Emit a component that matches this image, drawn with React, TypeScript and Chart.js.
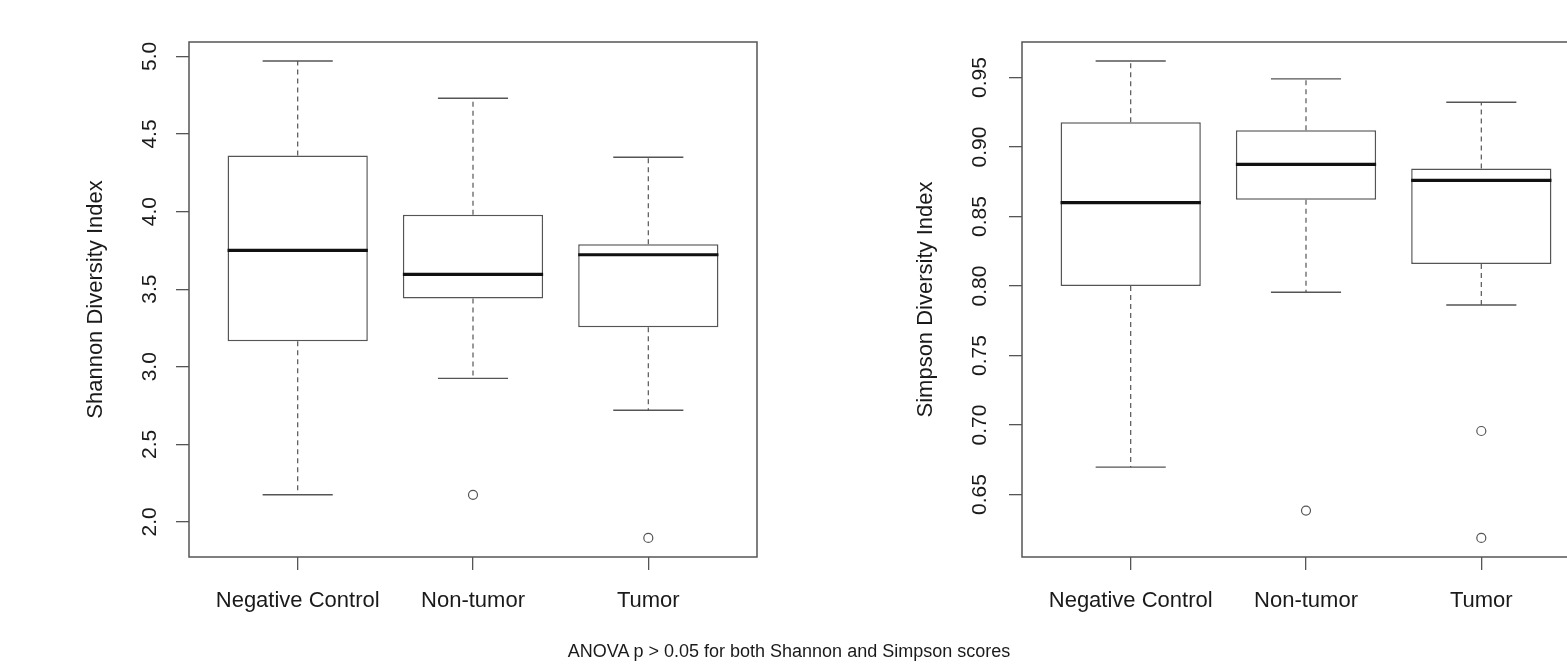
import React, { useEffect, useRef } from 'react';
import { Chart, registerables } from 'chart.js';

Chart.register(...registerables);

// ---------- data ----------
const categories = ['Negative Control', 'Non-tumor', 'Tumor'];
const categoryPositions = [1, 2, 3];

const shannonLowerWhisker = [2.175, 2.925, 2.72];
const shannonQ1 = [3.165, 3.44, 3.255];
const shannonMedian = [3.75, 3.595, 3.722];
const shannonQ3 = [4.362, 3.979, 3.789];
const shannonUpperWhisker = [4.97, 4.73, 4.35];
const shannonOutliers: number[][] = [[], [2.175], [1.897]];
const shannonTicks = [2.0, 2.5, 3.0, 3.5, 4.0, 4.5, 5.0];

const simpsonLowerWhisker = [0.6697, 0.7955, 0.7863];
const simpsonQ1 = [0.8, 0.862, 0.8159];
const simpsonMedian = [0.86, 0.8875, 0.876];
const simpsonQ3 = [0.9178, 0.912, 0.8846];
const simpsonUpperWhisker = [0.9618, 0.949, 0.9322];
const simpsonOutliers: number[][] = [[], [0.6385], [0.6957, 0.6188]];
const simpsonTicks = [0.65, 0.7, 0.75, 0.8, 0.85, 0.9, 0.95];

const shannonTitle = 'Shannon Diversity Index';
const simpsonTitle = 'Simpson Diversity Index';
const captionText = 'ANOVA p > 0.05 for both Shannon and Simpson scores';

// ---------- styling ----------
const FONT_FAMILY = '"Liberation Sans", Arial, Helvetica, sans-serif';
const LINE_COLOR = '#555555';
const TEXT_COLOR = '#1a1a1a';
const CANVAS_H = 672;

const framePlugin = {
  id: 'frame',
  afterDatasetsDraw(chart: any) {
    const { ctx, chartArea } = chart;
    const { left, top, right, bottom } = chartArea;
    ctx.save();
    ctx.strokeStyle = LINE_COLOR;
    ctx.lineWidth = 1.5;
    ctx.strokeRect(left, top, right - left, bottom - top);
    ctx.restore();
  },
};

interface PanelSpec {
  lower: number[];
  q1: number[];
  median: number[];
  q3: number[];
  upper: number[];
  outliers: number[][];
  ticks: number[];
  decimals: number;
  title: string;
  yWidth: number;
  tickPad: number;
  titlePad: number;
  padRight: number;
}

function buildConfig(p: PanelSpec): any {
  const all = [...p.lower, ...p.upper, ...p.outliers.flat()];
  const lo = Math.min(...all);
  const hi = Math.max(...all);
  const ext = (hi - lo) * 0.04;
  const n = categories.length;
  const xExt = n * 0.04;
  const boxHalf = 0.4;
  const capHalf = 0.2;

  const whiskers: any[] = [];
  const caps: any[] = [];
  const medians: any[] = [];
  categoryPositions.forEach((x, i) => {
    whiskers.push({ x, y: p.q3[i] }, { x, y: p.upper[i] }, { x, y: null });
    whiskers.push({ x, y: p.q1[i] }, { x, y: p.lower[i] }, { x, y: null });
    caps.push({ x: x - capHalf, y: p.upper[i] }, { x: x + capHalf, y: p.upper[i] }, { x, y: null });
    caps.push({ x: x - capHalf, y: p.lower[i] }, { x: x + capHalf, y: p.lower[i] }, { x, y: null });
    medians.push({ x: x - boxHalf, y: p.median[i] }, { x: x + boxHalf, y: p.median[i] }, { x, y: null });
  });
  const outlierPts = p.outliers.flatMap((arr, i) => arr.map((v) => ({ x: categoryPositions[i], y: v })));

  const xFont = { family: FONT_FAMILY, size: 22 };
  const yFont = { family: FONT_FAMILY, size: 21 };
  const titleFont = { family: FONT_FAMILY, size: 22 };

  return {
    type: 'bar',
    data: {
      datasets: [
        {
          type: 'bar',
          data: categoryPositions.map((x, i) => ({ x, y: [p.q1[i], p.q3[i]] })),
          backgroundColor: '#ffffff',
          borderColor: LINE_COLOR,
          borderWidth: 1.5,
          borderSkipped: false,
          barPercentage: 1,
          categoryPercentage: 0.8,
          order: 3,
        },
        {
          type: 'line',
          data: whiskers,
          borderColor: LINE_COLOR,
          borderWidth: 1.2,
          borderDash: [5, 4],
          pointRadius: 0,
          spanGaps: false,
          fill: false,
          order: 2,
        },
        {
          type: 'line',
          data: caps,
          borderColor: LINE_COLOR,
          borderWidth: 1.4,
          pointRadius: 0,
          spanGaps: false,
          fill: false,
          order: 2,
        },
        {
          type: 'line',
          data: medians,
          borderColor: '#111111',
          borderWidth: 3.2,
          borderCapStyle: 'butt',
          pointRadius: 0,
          spanGaps: false,
          fill: false,
          order: 1,
        },
        {
          type: 'line',
          data: outlierPts,
          showLine: false,
          pointRadius: 4.5,
          pointBorderWidth: 1.2,
          pointBorderColor: LINE_COLOR,
          pointBackgroundColor: 'rgba(255,255,255,0)',
          order: 0,
        },
      ],
    },
    options: {
      animation: false,
      responsive: false,
      events: [],
      layout: { padding: { top: 42, right: p.padRight, left: 0, bottom: 0 } },
      plugins: { legend: { display: false }, tooltip: { enabled: false } },
      scales: {
        x: {
          type: 'linear',
          min: 0.5 - xExt,
          max: n + 0.5 + xExt,
          offset: false,
          afterBuildTicks: (s: any) => {
            s.ticks = categoryPositions.map((v) => ({ value: v }));
          },
          afterFit: (s: any) => {
            s.height = CANVAS_H - 557;
          },
          ticks: {
            autoSkip: false,
            maxRotation: 0,
            minRotation: 0,
            padding: 18,
            color: TEXT_COLOR,
            font: xFont,
            callback: (v: any) => {
              const idx = categoryPositions.indexOf(Number(v));
              return idx >= 0 ? categories[idx] : '';
            },
          },
          grid: { offset: false, drawOnChartArea: false, drawTicks: true, tickLength: 13, color: LINE_COLOR, lineWidth: 1.3 },
          border: { display: false },
        },
        y: {
          type: 'linear',
          min: lo - ext,
          max: hi + ext,
          afterBuildTicks: (s: any) => {
            s.ticks = p.ticks.map((v) => ({ value: v }));
          },
          afterFit: (s: any) => {
            s.width = p.yWidth;
          },
          ticks: {
            autoSkip: false,
            minRotation: 90,
            maxRotation: 90,
            crossAlign: 'center',
            padding: p.tickPad,
            color: TEXT_COLOR,
            font: yFont,
            callback: (v: any) => Number(v).toFixed(p.decimals),
          },
          grid: { drawOnChartArea: false, drawTicks: true, tickLength: 13, color: LINE_COLOR, lineWidth: 1.3 },
          border: { display: false },
          title: {
            display: true,
            text: p.title,
            color: TEXT_COLOR,
            font: titleFont,
            padding: { top: p.titlePad, bottom: 0 },
          },
        },
      },
    },
    plugins: [framePlugin],
  };
}

function BoxPanel({ spec, left, width }: { spec: PanelSpec; left: number; width: number }) {
  const ref = useRef<HTMLCanvasElement | null>(null);
  useEffect(() => {
    if (!ref.current) return;
    const chart = new Chart(ref.current, buildConfig(spec));
    return () => chart.destroy();
  }, []);
  return (
    <canvas
      ref={ref}
      width={width}
      height={CANVAS_H}
      style={{ position: 'absolute', left, top: 0, width, height: CANVAS_H, display: 'block' }}
    />
  );
}

const shannonSpec: PanelSpec = {
  lower: shannonLowerWhisker,
  q1: shannonQ1,
  median: shannonMedian,
  q3: shannonQ3,
  upper: shannonUpperWhisker,
  outliers: shannonOutliers,
  ticks: shannonTicks,
  decimals: 1,
  title: shannonTitle,
  yWidth: 189,
  tickPad: 11.4,
  titlePad: 82.8,
  padRight: 43,
};

const simpsonSpec: PanelSpec = {
  lower: simpsonLowerWhisker,
  q1: simpsonQ1,
  median: simpsonMedian,
  q3: simpsonQ3,
  upper: simpsonUpperWhisker,
  outliers: simpsonOutliers,
  ticks: simpsonTicks,
  decimals: 2,
  title: simpsonTitle,
  yWidth: 188,
  tickPad: 8.6,
  titlePad: 78.8,
  padRight: 10,
};

export default function App() {
  return (
    <div
      style={{
        position: 'absolute',
        left: 0,
        top: 0,
        width: 1567,
        height: 672,
        overflow: 'hidden',
        background: '#ffffff',
      }}
    >
      <BoxPanel spec={shannonSpec} left={0} width={800} />
      <BoxPanel spec={simpsonSpec} left={834} width={766} />
      <div
        style={{
          position: 'absolute',
          left: 389,
          top: 640,
          width: 800,
          textAlign: 'center',
          fontFamily: FONT_FAMILY,
          fontSize: 18,
          lineHeight: '22px',
          color: TEXT_COLOR,
          whiteSpace: 'nowrap',
        }}
      >
        {captionText}
      </div>
    </div>
  );
}
